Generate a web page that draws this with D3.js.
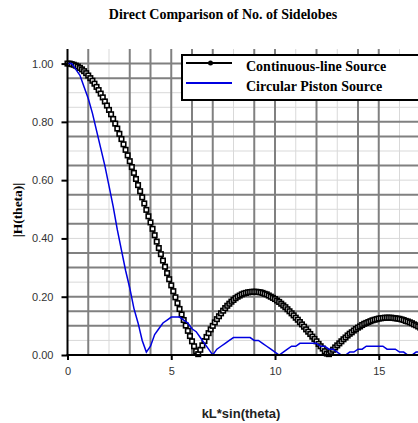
<!DOCTYPE html>
<html>
<head>
<meta charset="utf-8">
<script src="https://cdn.jsdelivr.net/npm/d3@7/dist/d3.min.js"></script>
<style>
  body { margin: 0; background: #fff; }
  svg { display: block; }
</style>
</head>
<body>
<div id="chart"></div>
<script>
/*
 *  DATA
 */
var title = "Direct Comparison of No. of Sidelobes";
var xTitle = "kL*sin(theta)";
var yTitle = "|H(theta)|";
var seriesNames = ["Continuous-line Source", "Circular Piston Source"];
var xTicks = [0, 5, 10, 15];
var yTicks = [0, 0.2, 0.4, 0.6, 0.8, 1.0];

// continuous-line source, one sample every 0.1 of kL*sin(theta)
var lineStep = 0.1;
var lineSource = [
  1.000, 1.000, 0.998, 0.996, 0.993, 0.990, 0.985, 0.980, 0.974, 0.967,
  0.959, 0.950, 0.941, 0.931, 0.920, 0.909, 0.897, 0.884, 0.870, 0.856,
  0.841, 0.826, 0.810, 0.794, 0.777, 0.759, 0.741, 0.723, 0.704, 0.685,
  0.665, 0.645, 0.625, 0.604, 0.583, 0.562, 0.541, 0.520, 0.498, 0.476,
  0.455, 0.433, 0.411, 0.389, 0.367, 0.346, 0.324, 0.303, 0.281, 0.260,
  0.239, 0.219, 0.198, 0.178, 0.158, 0.139, 0.120, 0.101, 0.083, 0.065,
  0.047, 0.030, 0.013, 0.003, 0.018, 0.033, 0.048, 0.062, 0.075, 0.088,
  0.100, 0.112, 0.123, 0.133, 0.143, 0.152, 0.161, 0.169, 0.176, 0.183,
  0.189, 0.195, 0.200, 0.204, 0.208, 0.211, 0.213, 0.215, 0.216, 0.217,
  0.217, 0.217, 0.216, 0.215, 0.213, 0.210, 0.208, 0.204, 0.200, 0.196,
  0.192, 0.187, 0.182, 0.176, 0.170, 0.164, 0.157, 0.150, 0.143, 0.136,
  0.128, 0.121, 0.113, 0.105, 0.097, 0.088, 0.080, 0.072, 0.063, 0.055,
  0.047, 0.038, 0.030, 0.022, 0.013, 0.005, 0.003, 0.011, 0.018, 0.026,
  0.033, 0.040, 0.047, 0.054, 0.060, 0.067, 0.073, 0.078, 0.084, 0.089,
  0.094, 0.098, 0.103, 0.107, 0.110, 0.113, 0.116, 0.119, 0.121, 0.123,
  0.125, 0.126, 0.127, 0.128, 0.128, 0.128, 0.128, 0.127, 0.126, 0.125,
  0.124, 0.122, 0.120, 0.117, 0.115, 0.112, 0.109, 0.105, 0.102, 0.098, 0.094
];

// circular piston source, one sample every 0.2
var pistonStep = 0.2;
var pistonSource = [
  1.00, 1.00, 0.98, 0.96, 0.92, 0.88, 0.83, 0.77, 0.71, 0.65,
  0.58, 0.51, 0.43, 0.36, 0.29, 0.23, 0.16, 0.11, 0.05, 0.01,
  0.03, 0.07, 0.09, 0.11, 0.12, 0.13, 0.13, 0.13, 0.12, 0.11,
  0.09, 0.08, 0.06, 0.04, 0.02, 0.00, 0.02, 0.03, 0.04, 0.05,
  0.06, 0.06, 0.06, 0.06, 0.06, 0.05, 0.05, 0.04, 0.03, 0.02,
  0.01, 0.00, 0.01, 0.02, 0.03, 0.03, 0.04, 0.04, 0.04, 0.04,
  0.04, 0.03, 0.03, 0.02, 0.02, 0.01, 0.00, 0.00, 0.01, 0.01,
  0.02, 0.02, 0.03, 0.03, 0.03, 0.03, 0.03, 0.02, 0.02, 0.02,
  0.01, 0.01, 0.00, 0.00, 0.01, 0.01
];

// grid lines, heavy and light
var gridDarkX = [1, 3, 4, 5, 6, 7, 9, 10, 12, 14, 15];
var gridLightX = [2, 8, 11, 13, 16];
var gridDarkY = [1.00, 0.95, 0.80, 0.75, 0.65, 0.55, 0.45, 0.35, 0.30, 0.20, 0.15, 0.10];
var gridLightY = [0.90, 0.85, 0.70, 0.60, 0.50, 0.40, 0.25, 0.05];

/*
 *  LAYOUT
 */
var view_width = 418;
var view_height = 423;
var plot = {left: 67.5, top: 49, bottom: 355, unit: 20.75};

var x_scale = d3.scaleLinear()
    .domain([0, 17])
    .range([plot.left, plot.left + 17 * plot.unit]);

var y_scale = d3.scaleLinear()
    .domain([0, 1.05])
    .range([plot.bottom, plot.top]);

var svg = d3.select('#chart')
    .append('svg')
        .attr('width', view_width)
        .attr('height', view_height);

var sans = "'Liberation Sans', Arial, sans-serif";
var serif = "'Liberation Serif', 'Times New Roman', serif";

// grid
var grid = svg.append('g');
grid.selectAll('.vlight')
    .data(gridLightX)
    .enter().append('line')
    .attr('x1', function(d) { return x_scale(d); })
    .attr('x2', function(d) { return x_scale(d); })
    .attr('y1', plot.top).attr('y2', plot.bottom)
    .attr('stroke', '#d9d9d9').attr('stroke-width', 1);
grid.selectAll('.hlight')
    .data(gridLightY)
    .enter().append('line')
    .attr('x1', plot.left).attr('x2', view_width)
    .attr('y1', function(d) { return y_scale(d); })
    .attr('y2', function(d) { return y_scale(d); })
    .attr('stroke', '#d9d9d9').attr('stroke-width', 1);
grid.selectAll('.vdark')
    .data(gridDarkX)
    .enter().append('line')
    .attr('x1', function(d) { return x_scale(d); })
    .attr('x2', function(d) { return x_scale(d); })
    .attr('y1', plot.top).attr('y2', plot.bottom)
    .attr('stroke', '#808080').attr('stroke-width', 2);
grid.selectAll('.hdark')
    .data(gridDarkY)
    .enter().append('line')
    .attr('x1', plot.left).attr('x2', view_width)
    .attr('y1', function(d) { return y_scale(d); })
    .attr('y2', function(d) { return y_scale(d); })
    .attr('stroke', '#808080').attr('stroke-width', 2);

// continuous-line source
var lineData = lineSource.map(function(v, i) { return {x: i * lineStep, y: v}; });
var pistonData = pistonSource.map(function(v, i) { return {x: i * pistonStep, y: v}; });

var valueline = d3.line()
    .x(function(d) { return x_scale(d.x); })
    .y(function(d) { return y_scale(d.y); });

svg.append('path')
    .datum(lineData)
    .attr('fill', 'none')
    .attr('stroke', '#000')
    .attr('stroke-width', 2)
    .attr('d', valueline);

var m = 4.5;
svg.selectAll('.dot')
    .data(lineData)
    .enter().append('rect')
    .attr('class', 'dot')
    .attr('x', function(d) { return x_scale(d.x) - m / 2; })
    .attr('y', function(d) { return y_scale(d.y) - m / 2; })
    .attr('width', m).attr('height', m)
    .attr('fill', '#fff')
    .attr('stroke', '#000')
    .attr('stroke-width', 1.6);

// circular piston source
svg.append('path')
    .datum(pistonData)
    .attr('fill', 'none')
    .attr('stroke', '#0000e0')
    .attr('stroke-width', 1.5)
    .attr('d', valueline);

// axes
var axisY = d3.axisLeft(y_scale)
    .tickValues(yTicks)
    .tickSize(6)
    .tickFormat(d3.format('.2f'));
var gy = svg.append('g')
    .attr('transform', 'translate(' + plot.left + ',0)')
    .call(axisY);
var axisX = d3.axisBottom(x_scale)
    .tickValues(xTicks)
    .tickSize(5)
    .tickFormat(d3.format('d'));
var gx = svg.append('g')
    .attr('transform', 'translate(0,' + plot.bottom + ')')
    .call(axisX);

[gx, gy].forEach(function(g) {
    g.select('.domain').remove();
    g.selectAll('line').attr('stroke', '#000').attr('stroke-width', 2);
    g.selectAll('text')
        .attr('font-family', sans)
        .attr('font-size', 11)
        .attr('fill', '#333');
});
gy.selectAll('text').attr('x', -14);
gx.selectAll('text').attr('y', 12);

svg.append('line')
    .attr('x1', plot.left).attr('x2', plot.left)
    .attr('y1', plot.top).attr('y2', plot.bottom + 1)
    .attr('stroke', '#000').attr('stroke-width', 2);
svg.append('line')
    .attr('x1', plot.left - 1).attr('x2', view_width)
    .attr('y1', plot.bottom).attr('y2', plot.bottom)
    .attr('stroke', '#000').attr('stroke-width', 2);

// titles
svg.append('text')
    .attr('x', 223).attr('y', 19)
    .attr('text-anchor', 'middle')
    .attr('font-family', serif)
    .attr('font-weight', 'bold')
    .attr('font-size', 14)
    .text(title);

svg.append('text')
    .attr('x', 241).attr('y', 418)
    .attr('text-anchor', 'middle')
    .attr('font-family', sans)
    .attr('font-weight', 'bold')
    .attr('font-size', 13)
    .attr('fill', '#222')
    .text(xTitle);

svg.append('text')
    .attr('transform', 'translate(22,210)rotate(-90)')
    .attr('text-anchor', 'middle')
    .attr('font-family', serif)
    .attr('font-weight', 'bold')
    .attr('font-size', 13.5)
    .text(yTitle);

// legend
var legend = svg.append('g');
legend.append('rect')
    .attr('x', 182).attr('y', 55)
    .attr('width', 260).attr('height', 45)
    .attr('fill', '#fff')
    .attr('stroke', '#000')
    .attr('stroke-width', 2);
legend.append('line')
    .attr('x1', 186).attr('x2', 232)
    .attr('y1', 63).attr('y2', 63)
    .attr('stroke', '#000').attr('stroke-width', 2);
legend.append('circle')
    .attr('cx', 210.5).attr('cy', 63).attr('r', 2.5)
    .attr('fill', '#000');
legend.append('line')
    .attr('x1', 186).attr('x2', 232)
    .attr('y1', 83).attr('y2', 83)
    .attr('stroke', '#0000e0').attr('stroke-width', 2);
legend.selectAll('.ltext')
    .data(seriesNames)
    .enter().append('text')
    .attr('x', 246)
    .attr('y', function(d, i) { return 70.5 + i * 20; })
    .attr('font-family', serif)
    .attr('font-weight', 'bold')
    .attr('font-size', 14)
    .text(function(d) { return d; });
</script>
</body>
</html>
